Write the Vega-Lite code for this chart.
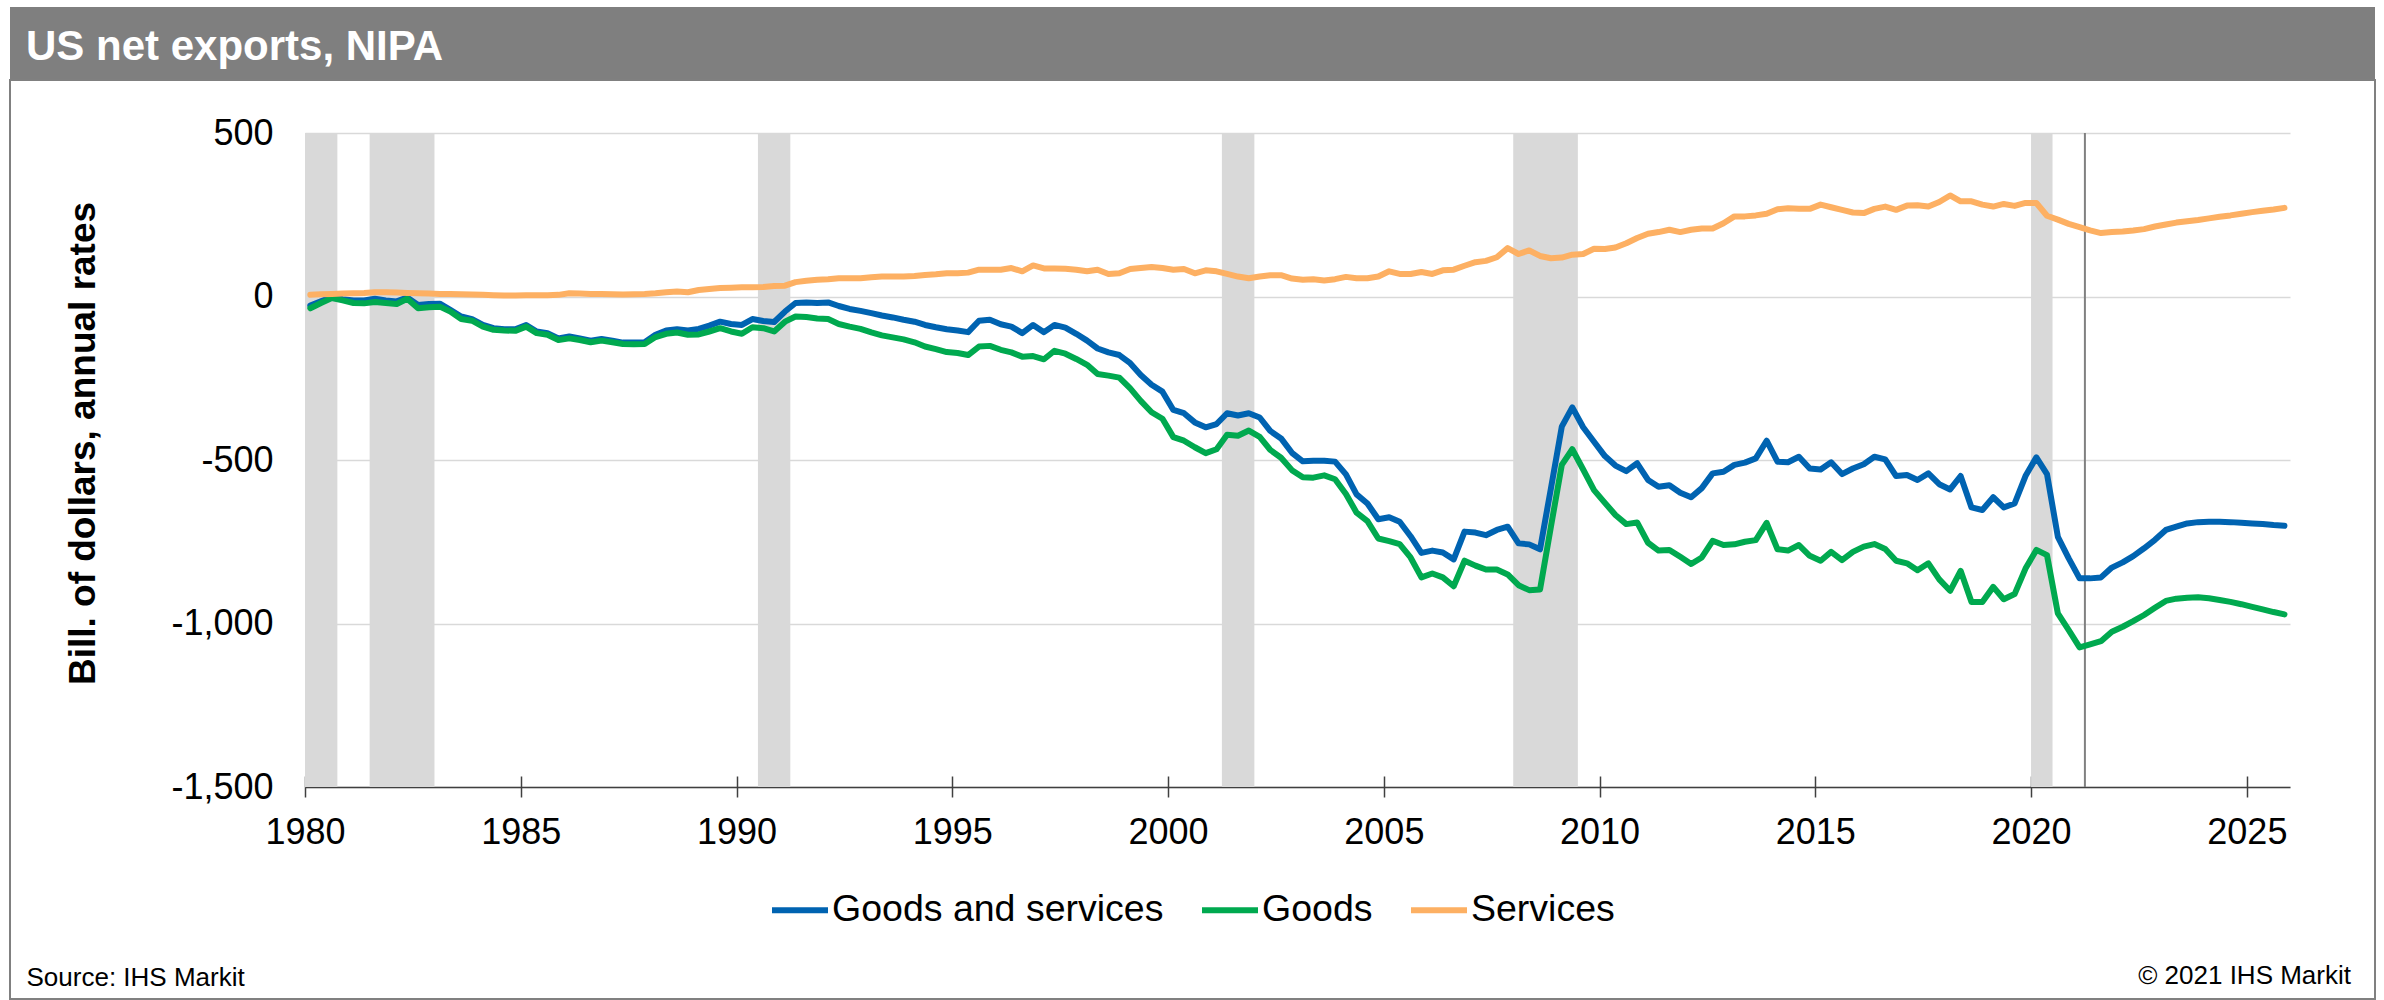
{
  "$schema": "https://vega.github.io/schema/vega-lite/v6.json",
  "background": "white",
  "padding": {"left": 9, "top": 7, "right": 0, "bottom": 0},
  "bounds": "flush",
  "spacing": 0,
  "config": {
    "font": "Liberation Sans",
    "view": {"stroke": null},
    "title": {"font": "Liberation Sans"},
    "axis": {"labelFont": "Liberation Sans", "titleFont": "Liberation Sans"},
    "axisX": {"labelFontSize": 36, "labelColor": "#000000", "labelPadding": 18, "labelFlush": false, "labelOverlap": false,
              "tickSize": 10, "tickColor": "#404040", "tickWidth": 1.5, "domainColor": "#404040", "domainWidth": 1.5, "grid": false,
              "titleFontSize": 26, "titleFontWeight": "normal", "titleColor": "#000000", "titleX": 16, "titleY": 198,
              "titleAlign": "left", "titleAnchor": "start", "titleBaseline": "alphabetic"},
    "axisY": {"labelFontSize": 36, "labelColor": "#000000", "labelPadding": 32, "ticks": false, "tickSize": 0, "domain": false,
              "grid": true, "gridColor": "#d9d9d9", "gridWidth": 1.5,
              "titleFontSize": 37, "titleFontWeight": "bold", "titleColor": "#000000", "titleX": -211, "titleY": 363,
              "titleAlign": "center", "titleBaseline": "alphabetic", "titleAngle": 270},
    "legend": {"labelFont": "Liberation Sans"}
  },
  "vconcat": [
    {
      "width": 2365,
      "height": 73,
      "data": {"values": [{}]},
      "mark": {"type": "rect", "color": "#7f7f7f"},
      "title": {"text": "US net exports, NIPA", "anchor": "start", "frame": "group", "orient": "bottom", "offset": -20, "dx": 16, "baseline": "alphabetic", "color": "#ffffff", "fontSize": 42, "fontWeight": "bold"}
    },
    {
      "width": 2365,
      "height": 919,
      "view": {"fill": "#ffffff", "stroke": "#808080", "strokeWidth": 2},
      "title": {"text": "© 2021 IHS Markit", "orient": "bottom", "anchor": "end", "frame": "group", "offset": -15, "dx": -24, "baseline": "alphabetic", "fontSize": 26, "fontWeight": "normal", "color": "#000000"},
      "resolve": {"axis": {"x": "independent"}},
      "layer": [
        {
          "data": {"values": [
            {"start": "1980-01-01", "end": "1980-10-01"},
            {"start": "1981-07-01", "end": "1983-01-01"},
            {"start": "1990-07-01", "end": "1991-04-01"},
            {"start": "2001-04-01", "end": "2002-01-01"},
            {"start": "2008-01-01", "end": "2009-07-01"},
            {"start": "2020-01-01", "end": "2020-07-01"}
          ]},
          "mark": {"type": "rect", "color": "#d9d9d9"},
          "encoding": {
            "x": {"field": "start", "type": "temporal",
                  "axis": {"orient": "bottom", "title": null, "offset": -212, "labels": false, "domain": false, "ticks": true, "tickSize": -11,
                           "values": [
                             {"year": 1980, "month": 1, "date": 1, "utc": true},
                             {"year": 1985, "month": 1, "date": 1, "utc": true},
                             {"year": 1990, "month": 1, "date": 1, "utc": true},
                             {"year": 1995, "month": 1, "date": 1, "utc": true},
                             {"year": 2000, "month": 1, "date": 1, "utc": true},
                             {"year": 2005, "month": 1, "date": 1, "utc": true},
                             {"year": 2010, "month": 1, "date": 1, "utc": true},
                             {"year": 2015, "month": 1, "date": 1, "utc": true},
                             {"year": 2020, "month": 1, "date": 1, "utc": true},
                             {"year": 2025, "month": 1, "date": 1, "utc": true}
                           ]},
                  "scale": {"type": "utc", "domain": [{"year": 1980, "month": 1, "date": 1, "utc": true}, {"year": 2026, "month": 1, "date": 1, "utc": true}], "range": [295, 2280]}},
            "x2": {"field": "end"},
            "y": {"datum": 500, "type": "quantitative", "axis": {"title": "Bill. of dollars, annual rates", "offset": -295}, "scale": {"domain": [-1500, 500], "nice": false, "zero": false, "range": [707, 53]}},
            "y2": {"datum": -1500}
          }
        },
        {
          "data": {"values": [{}]},
          "mark": {"type": "rule", "color": "#808080", "strokeWidth": 2},
          "encoding": {
            "x": {"datum": {"year": 2021, "month": 4, "date": 1, "utc": true}, "type": "temporal", "axis": null,
                  "scale": {"type": "utc", "domain": [{"year": 1980, "month": 1, "date": 1, "utc": true}, {"year": 2026, "month": 1, "date": 1, "utc": true}], "range": [295, 2280]}},
            "y": {"datum": 500, "type": "quantitative", "axis": {"title": "Bill. of dollars, annual rates", "offset": -295}, "scale": {"domain": [-1500, 500], "nice": false, "zero": false, "range": [707, 53]}},
            "y2": {"datum": -1500}
          }
        },
        {
          "data": {"values": [
{"d":"1980-02-15","Goods and services":-28,"Goods":-36,"Services":5},
{"d":"1980-05-15","Goods and services":-15,"Goods":-20,"Services":7},
{"d":"1980-08-15","Goods and services":-2,"Goods":-5,"Services":8},
{"d":"1980-11-15","Goods and services":-8,"Goods":-12,"Services":9},
{"d":"1981-02-15","Goods and services":-12,"Goods":-20,"Services":10},
{"d":"1981-05-15","Goods and services":-12,"Goods":-21,"Services":11},
{"d":"1981-08-15","Goods and services":-7,"Goods":-17,"Services":13},
{"d":"1981-11-15","Goods and services":-12,"Goods":-20,"Services":13},
{"d":"1982-02-15","Goods and services":-15,"Goods":-23,"Services":12},
{"d":"1982-05-15","Goods and services":-3,"Goods":-7,"Services":11},
{"d":"1982-08-15","Goods and services":-26,"Goods":-36,"Services":10},
{"d":"1982-11-15","Goods and services":-23,"Goods":-33,"Services":9},
{"d":"1983-02-15","Goods and services":-22,"Goods":-31,"Services":8},
{"d":"1983-05-15","Goods and services":-41,"Goods":-46,"Services":8},
{"d":"1983-08-15","Goods and services":-61,"Goods":-69,"Services":7},
{"d":"1983-11-15","Goods and services":-69,"Goods":-74,"Services":6},
{"d":"1984-02-15","Goods and services":-87,"Goods":-92,"Services":5},
{"d":"1984-05-15","Goods and services":-97,"Goods":-102,"Services":4},
{"d":"1984-08-15","Goods and services":-100,"Goods":-104,"Services":3},
{"d":"1984-11-15","Goods and services":-100,"Goods":-105,"Services":3},
{"d":"1985-02-15","Goods and services":-87,"Goods":-92,"Services":4},
{"d":"1985-05-15","Goods and services":-107,"Goods":-112,"Services":4},
{"d":"1985-08-15","Goods and services":-112,"Goods":-117,"Services":4},
{"d":"1985-11-15","Goods and services":-128,"Goods":-133,"Services":5},
{"d":"1986-02-15","Goods and services":-122,"Goods":-128,"Services":10},
{"d":"1986-05-15","Goods and services":-128,"Goods":-133,"Services":9},
{"d":"1986-08-15","Goods and services":-135,"Goods":-140,"Services":8},
{"d":"1986-11-15","Goods and services":-130,"Goods":-135,"Services":8},
{"d":"1987-02-15","Goods and services":-135,"Goods":-140,"Services":7},
{"d":"1987-05-15","Goods and services":-141,"Goods":-145,"Services":6},
{"d":"1987-08-15","Goods and services":-141,"Goods":-146,"Services":7},
{"d":"1987-11-15","Goods and services":-140,"Goods":-145,"Services":8},
{"d":"1988-02-15","Goods and services":-117,"Goods":-124,"Services":10},
{"d":"1988-05-15","Goods and services":-104,"Goods":-114,"Services":13},
{"d":"1988-08-15","Goods and services":-100,"Goods":-110,"Services":15},
{"d":"1988-11-15","Goods and services":-104,"Goods":-117,"Services":13},
{"d":"1989-02-15","Goods and services":-99,"Goods":-116,"Services":20},
{"d":"1989-05-15","Goods and services":-89,"Goods":-107,"Services":23},
{"d":"1989-08-15","Goods and services":-77,"Goods":-97,"Services":26},
{"d":"1989-11-15","Goods and services":-84,"Goods":-107,"Services":27},
{"d":"1990-02-15","Goods and services":-87,"Goods":-114,"Services":28},
{"d":"1990-05-15","Goods and services":-69,"Goods":-94,"Services":28},
{"d":"1990-08-15","Goods and services":-75,"Goods":-97,"Services":29},
{"d":"1990-11-15","Goods and services":-78,"Goods":-107,"Services":32},
{"d":"1991-02-15","Goods and services":-46,"Goods":-77,"Services":33},
{"d":"1991-05-15","Goods and services":-20,"Goods":-61,"Services":44},
{"d":"1991-08-15","Goods and services":-18,"Goods":-63,"Services":48},
{"d":"1991-11-15","Goods and services":-20,"Goods":-67,"Services":51},
{"d":"1992-02-15","Goods and services":-18,"Goods":-69,"Services":53},
{"d":"1992-05-15","Goods and services":-29,"Goods":-84,"Services":56},
{"d":"1992-08-15","Goods and services":-38,"Goods":-92,"Services":56},
{"d":"1992-11-15","Goods and services":-44,"Goods":-99,"Services":56},
{"d":"1993-02-15","Goods and services":-51,"Goods":-110,"Services":59},
{"d":"1993-05-15","Goods and services":-58,"Goods":-119,"Services":61},
{"d":"1993-08-15","Goods and services":-64,"Goods":-125,"Services":61},
{"d":"1993-11-15","Goods and services":-71,"Goods":-131,"Services":61},
{"d":"1994-02-15","Goods and services":-77,"Goods":-140,"Services":63},
{"d":"1994-05-15","Goods and services":-87,"Goods":-153,"Services":66},
{"d":"1994-08-15","Goods and services":-94,"Goods":-161,"Services":68},
{"d":"1994-11-15","Goods and services":-100,"Goods":-170,"Services":71},
{"d":"1995-02-15","Goods and services":-104,"Goods":-173,"Services":71},
{"d":"1995-05-15","Goods and services":-109,"Goods":-179,"Services":73},
{"d":"1995-08-15","Goods and services":-74,"Goods":-153,"Services":82},
{"d":"1995-11-15","Goods and services":-71,"Goods":-151,"Services":82},
{"d":"1996-02-15","Goods and services":-85,"Goods":-163,"Services":82},
{"d":"1996-05-15","Goods and services":-92,"Goods":-171,"Services":87},
{"d":"1996-08-15","Goods and services":-112,"Goods":-184,"Services":77},
{"d":"1996-11-15","Goods and services":-87,"Goods":-182,"Services":95},
{"d":"1997-02-15","Goods and services":-109,"Goods":-192,"Services":86},
{"d":"1997-05-15","Goods and services":-87,"Goods":-166,"Services":86},
{"d":"1997-08-15","Goods and services":-95,"Goods":-175,"Services":85},
{"d":"1997-11-15","Goods and services":-114,"Goods":-191,"Services":82},
{"d":"1998-02-15","Goods and services":-135,"Goods":-209,"Services":77},
{"d":"1998-05-15","Goods and services":-159,"Goods":-237,"Services":82},
{"d":"1998-08-15","Goods and services":-171,"Goods":-242,"Services":69},
{"d":"1998-11-15","Goods and services":-179,"Goods":-248,"Services":71},
{"d":"1999-02-15","Goods and services":-204,"Goods":-281,"Services":84},
{"d":"1999-05-15","Goods and services":-240,"Goods":-319,"Services":87},
{"d":"1999-08-15","Goods and services":-270,"Goods":-354,"Services":90},
{"d":"1999-11-15","Goods and services":-291,"Goods":-374,"Services":87},
{"d":"2000-02-15","Goods and services":-347,"Goods":-430,"Services":82},
{"d":"2000-05-15","Goods and services":-357,"Goods":-441,"Services":84},
{"d":"2000-08-15","Goods and services":-385,"Goods":-461,"Services":71},
{"d":"2000-11-15","Goods and services":-400,"Goods":-479,"Services":80},
{"d":"2001-02-15","Goods and services":-390,"Goods":-467,"Services":77},
{"d":"2001-05-15","Goods and services":-357,"Goods":-423,"Services":69},
{"d":"2001-08-15","Goods and services":-364,"Goods":-426,"Services":61},
{"d":"2001-11-15","Goods and services":-357,"Goods":-410,"Services":56},
{"d":"2002-02-15","Goods and services":-370,"Goods":-429,"Services":61},
{"d":"2002-05-15","Goods and services":-411,"Goods":-469,"Services":65},
{"d":"2002-08-15","Goods and services":-434,"Goods":-493,"Services":65},
{"d":"2002-11-15","Goods and services":-478,"Goods":-531,"Services":55},
{"d":"2003-02-15","Goods and services":-504,"Goods":-553,"Services":51},
{"d":"2003-05-15","Goods and services":-502,"Goods":-554,"Services":53},
{"d":"2003-08-15","Goods and services":-502,"Goods":-547,"Services":49},
{"d":"2003-11-15","Goods and services":-505,"Goods":-559,"Services":53},
{"d":"2004-02-15","Goods and services":-544,"Goods":-604,"Services":60},
{"d":"2004-05-15","Goods and services":-605,"Goods":-661,"Services":56},
{"d":"2004-08-15","Goods and services":-633,"Goods":-687,"Services":56},
{"d":"2004-11-15","Goods and services":-681,"Goods":-740,"Services":61},
{"d":"2005-02-15","Goods and services":-675,"Goods":-748,"Services":77},
{"d":"2005-05-15","Goods and services":-689,"Goods":-757,"Services":69},
{"d":"2005-08-15","Goods and services":-733,"Goods":-798,"Services":69},
{"d":"2005-11-15","Goods and services":-784,"Goods":-859,"Services":75},
{"d":"2006-02-15","Goods and services":-777,"Goods":-847,"Services":69},
{"d":"2006-05-15","Goods and services":-783,"Goods":-859,"Services":80},
{"d":"2006-08-15","Goods and services":-804,"Goods":-886,"Services":82},
{"d":"2006-11-15","Goods and services":-719,"Goods":-808,"Services":94},
{"d":"2007-02-15","Goods and services":-722,"Goods":-823,"Services":105},
{"d":"2007-05-15","Goods and services":-730,"Goods":-835,"Services":109},
{"d":"2007-08-15","Goods and services":-714,"Goods":-835,"Services":120},
{"d":"2007-11-15","Goods and services":-704,"Goods":-850,"Services":148},
{"d":"2008-02-15","Goods and services":-755,"Goods":-883,"Services":130},
{"d":"2008-05-15","Goods and services":-758,"Goods":-898,"Services":141},
{"d":"2008-08-15","Goods and services":-773,"Goods":-896,"Services":124},
{"d":"2008-11-15","Goods and services":-587,"Goods":-704,"Services":117},
{"d":"2009-02-15","Goods and services":-398,"Goods":-515,"Services":119},
{"d":"2009-05-15","Goods and services":-339,"Goods":-467,"Services":128},
{"d":"2009-08-15","Goods and services":-400,"Goods":-529,"Services":130},
{"d":"2009-11-15","Goods and services":-444,"Goods":-592,"Services":146},
{"d":"2010-02-15","Goods and services":-488,"Goods":-631,"Services":145},
{"d":"2010-05-15","Goods and services":-517,"Goods":-668,"Services":150},
{"d":"2010-08-15","Goods and services":-534,"Goods":-696,"Services":163},
{"d":"2010-11-15","Goods and services":-510,"Goods":-691,"Services":179},
{"d":"2011-02-15","Goods and services":-561,"Goods":-753,"Services":192},
{"d":"2011-05-15","Goods and services":-582,"Goods":-777,"Services":197},
{"d":"2011-08-15","Goods and services":-577,"Goods":-775,"Services":204},
{"d":"2011-11-15","Goods and services":-600,"Goods":-796,"Services":197},
{"d":"2012-02-15","Goods and services":-614,"Goods":-818,"Services":204},
{"d":"2012-05-15","Goods and services":-586,"Goods":-798,"Services":208},
{"d":"2012-08-15","Goods and services":-541,"Goods":-747,"Services":208},
{"d":"2012-11-15","Goods and services":-536,"Goods":-760,"Services":224},
{"d":"2013-02-15","Goods and services":-515,"Goods":-758,"Services":245},
{"d":"2013-05-15","Goods and services":-508,"Goods":-750,"Services":245},
{"d":"2013-08-15","Goods and services":-495,"Goods":-745,"Services":248},
{"d":"2013-11-15","Goods and services":-441,"Goods":-692,"Services":253},
{"d":"2014-02-15","Goods and services":-505,"Goods":-773,"Services":267},
{"d":"2014-05-15","Goods and services":-507,"Goods":-777,"Services":270},
{"d":"2014-08-15","Goods and services":-490,"Goods":-760,"Services":268},
{"d":"2014-11-15","Goods and services":-526,"Goods":-793,"Services":268},
{"d":"2015-02-15","Goods and services":-529,"Goods":-808,"Services":281},
{"d":"2015-05-15","Goods and services":-507,"Goods":-781,"Services":273},
{"d":"2015-08-15","Goods and services":-543,"Goods":-806,"Services":265},
{"d":"2015-11-15","Goods and services":-526,"Goods":-781,"Services":257},
{"d":"2016-02-15","Goods and services":-513,"Goods":-765,"Services":255},
{"d":"2016-05-15","Goods and services":-490,"Goods":-757,"Services":268},
{"d":"2016-08-15","Goods and services":-498,"Goods":-772,"Services":275},
{"d":"2016-11-15","Goods and services":-549,"Goods":-808,"Services":265},
{"d":"2017-02-15","Goods and services":-546,"Goods":-816,"Services":278},
{"d":"2017-05-15","Goods and services":-561,"Goods":-837,"Services":279},
{"d":"2017-08-15","Goods and services":-541,"Goods":-816,"Services":275},
{"d":"2017-11-15","Goods and services":-574,"Goods":-865,"Services":289},
{"d":"2018-02-15","Goods and services":-590,"Goods":-900,"Services":309},
{"d":"2018-05-15","Goods and services":-549,"Goods":-839,"Services":291},
{"d":"2018-08-15","Goods and services":-645,"Goods":-934,"Services":291},
{"d":"2018-11-15","Goods and services":-653,"Goods":-934,"Services":281},
{"d":"2019-02-15","Goods and services":-614,"Goods":-888,"Services":275},
{"d":"2019-05-15","Goods and services":-645,"Goods":-926,"Services":283},
{"d":"2019-08-15","Goods and services":-633,"Goods":-910,"Services":277},
{"d":"2019-11-15","Goods and services":-549,"Goods":-832,"Services":286},
{"d":"2020-02-15","Goods and services":-492,"Goods":-775,"Services":286},
{"d":"2020-05-15","Goods and services":-543,"Goods":-791,"Services":247},
{"d":"2020-08-15","Goods and services":-735,"Goods":-969,"Services":235},
{"d":"2020-11-15","Goods and services":-801,"Goods":-1020,"Services":222},
{"d":"2021-02-15","Goods and services":-862,"Goods":-1073,"Services":212},
{"d":"2021-05-15","Goods and services":-862,"Goods":-1064,"Services":202},
{"d":"2021-08-15","Goods and services":-859,"Goods":-1054,"Services":194},
{"d":"2021-11-15","Goods and services":-829,"Goods":-1025,"Services":197},
{"d":"2022-02-15","Goods and services":-813,"Goods":-1010,"Services":199},
{"d":"2022-05-15","Goods and services":-794,"Goods":-993,"Services":202},
{"d":"2022-08-15","Goods and services":-770,"Goods":-974,"Services":206},
{"d":"2022-11-15","Goods and services":-744,"Goods":-952,"Services":214},
{"d":"2023-02-15","Goods and services":-714,"Goods":-931,"Services":220},
{"d":"2023-05-15","Goods and services":-704,"Goods":-924,"Services":226},
{"d":"2023-08-15","Goods and services":-694,"Goods":-921,"Services":230},
{"d":"2023-11-15","Goods and services":-690,"Goods":-920,"Services":234},
{"d":"2024-02-15","Goods and services":-689,"Goods":-923,"Services":239},
{"d":"2024-05-15","Goods and services":-689,"Goods":-928,"Services":244},
{"d":"2024-08-15","Goods and services":-690,"Goods":-934,"Services":248},
{"d":"2024-11-15","Goods and services":-692,"Goods":-941,"Services":253},
{"d":"2025-02-15","Goods and services":-694,"Goods":-949,"Services":258},
{"d":"2025-05-15","Goods and services":-696,"Goods":-957,"Services":262},
{"d":"2025-08-15","Goods and services":-699,"Goods":-965,"Services":266},
{"d":"2025-11-15","Goods and services":-701,"Goods":-972,"Services":271}
          ]},
          "transform": [{"fold": ["Goods and services", "Goods", "Services"], "as": ["series", "value"]}],
          "mark": {"type": "line", "strokeWidth": 6, "strokeCap": "round", "strokeJoin": "round"},
          "encoding": {
            "x": {"field": "d", "type": "temporal",
                  "scale": {"type": "utc", "domain": [{"year": 1980, "month": 1, "date": 1, "utc": true}, {"year": 2026, "month": 1, "date": 1, "utc": true}], "range": [295, 2280]},
                  "axis": {
                    "orient": "bottom", "title": "Source: IHS Markit", "offset": -212,
                    "values": [
                      {"year": 1980, "month": 1, "date": 1, "utc": true},
                      {"year": 1985, "month": 1, "date": 1, "utc": true},
                      {"year": 1990, "month": 1, "date": 1, "utc": true},
                      {"year": 1995, "month": 1, "date": 1, "utc": true},
                      {"year": 2000, "month": 1, "date": 1, "utc": true},
                      {"year": 2005, "month": 1, "date": 1, "utc": true},
                      {"year": 2010, "month": 1, "date": 1, "utc": true},
                      {"year": 2015, "month": 1, "date": 1, "utc": true},
                      {"year": 2020, "month": 1, "date": 1, "utc": true},
                      {"year": 2025, "month": 1, "date": 1, "utc": true}
                    ],
                    "format": "%Y"
                  }},
            "y": {"field": "value", "type": "quantitative",
                  "scale": {"domain": [-1500, 500], "nice": false, "zero": false, "range": [707, 53]},
                  "axis": {
                    "title": "Bill. of dollars, annual rates", "offset": -295,
                    "values": [-1500, -1000, -500, 0, 500], "format": ",.0f",
                    "labelExpr": "replace(datum.label, '\u2212', '-')"
                  }},
            "color": {"field": "series", "type": "nominal",
                      "sort": ["Goods and services", "Goods", "Services"],
                      "scale": {"domain": ["Goods and services", "Goods", "Services"], "range": ["#0063b1", "#00a94f", "#fdb063"]},
                      "legend": {"orient": "none", "legendX": 759, "legendY": 872, "direction": "horizontal", "title": null,
                                 "symbolType": "stroke", "symbolSize": 3136, "symbolStrokeWidth": 6,
                                 "labelFontSize": 37.5, "labelColor": "#000000", "labelOffset": 1, "labelLimit": 0, "columnPadding": 26, "padding": 0}}
          }
        }
      ]
    }
  ]
}
